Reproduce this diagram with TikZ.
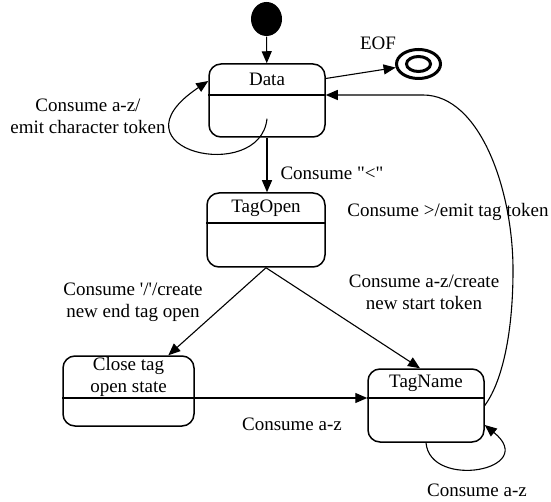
\documentclass[tikz,border=0pt]{standalone}
\usepackage{fontspec}
\setmainfont{Liberation Serif}
\usetikzlibrary{arrows.meta,shapes.geometric}
\tikzset{
  state/.style={draw, line width=1.5pt, rounded corners=12pt, inner sep=0pt},
  divider/.style={line width=1.5pt},
  pseudo/.style={ellipse, inner sep=0pt},
}
\begin{document}
\begin{tikzpicture}[x=1pt,y=-1pt,font=\fontsize{19}{22}\selectfont,
  line width=1.1pt, >={Triangle[length=12pt,width=10pt]}]
\useasboundingbox (0,0) rectangle (551,502);

% initial and final pseudo states
\node[pseudo, fill, minimum width=31pt, minimum height=34pt] (start) at (266.5,19) {};
\node[pseudo, draw, line width=3pt, minimum width=44pt, minimum height=29pt] (final) at (418.5,64) {};
\node[pseudo, draw, line width=3pt, minimum width=24pt, minimum height=15pt] (finalin) at (final) {};
\node (eof) at (378,43) {EOF};

% states, name compartment on top
\node[state, minimum width=116pt, minimum height=73pt] (data) at (267,100.5) {};
\node[state, minimum width=118pt, minimum height=74pt] (tagopen) at (266,230) {};
\node[state, minimum width=131pt, minimum height=70pt] (close) at (128.5,391) {};
\node[state, minimum width=116pt, minimum height=73pt] (tagname) at (426,405.5) {};
\coordinate (data-d) at (267,95);
\coordinate (tagopen-d) at (266,223);
\coordinate (close-d) at (128.5,398);
\coordinate (tagname-d) at (426,398);
\foreach \s in {data,tagopen,close,tagname}
  \draw[divider] (\s.west |- \s-d) -- (\s.east |- \s-d);
\node (data-t) at (267,79.5) {Data};
\node (tagopen-t) at (266,208) {TagOpen};
\node[align=center] (close-t) at (128.5,377) {Close tag\\open state};
\node (tagname-t) at (426,383.5) {TagName};

% transitions
\draw[->] (start) -- (data);
\draw[->] ([yshift=22pt]data.east) -- (final);
\draw[->] ([yshift=19pt]data.south) .. controls (260,185) and (105,150) .. ([yshift=19.5pt]data.west);
\draw[->] (data.south) -- (data.south |- tagopen.north);
\draw[->] (tagopen.south) -- (close);
\draw[->] (tagopen.south) -- ([xshift=-6pt]tagname.north);
\draw[->] (close.east |- close-d) -- (tagname.west |- tagname-d);
\coordinate (back) at (423,95);
\draw[->] (tagname.east) .. controls (500,385) and (513,340) .. (513,270)
  .. controls (513,190) and (480,95) .. (back) -- (data.east |- data-d);
\draw[->] (tagname.south) .. controls (430,490) and (540,470) .. ([yshift=-19.5pt]tagname.east);

% labels
\node[align=center] (l-char) at (88,116) {Consume a-z/\\emit character token};
\node[anchor=west, inner sep=0pt] (l-lt) at (280,173) {Consume \textquotedbl<\textquotedbl};
\node (l-emit) at (448,212) {Consume >/emit tag token};
\node[align=center] (l-slash) at (133,302) {Consume \textquotesingle/\textquotesingle/create\\new end tag open};
\node[align=center] (l-start) at (424,292) {Consume a-z/create\\new start token};
\node (l-az) at (292,424) {Consume a-z};
\node (l-loop) at (477,490) {Consume a-z};
\end{tikzpicture}
\end{document}
